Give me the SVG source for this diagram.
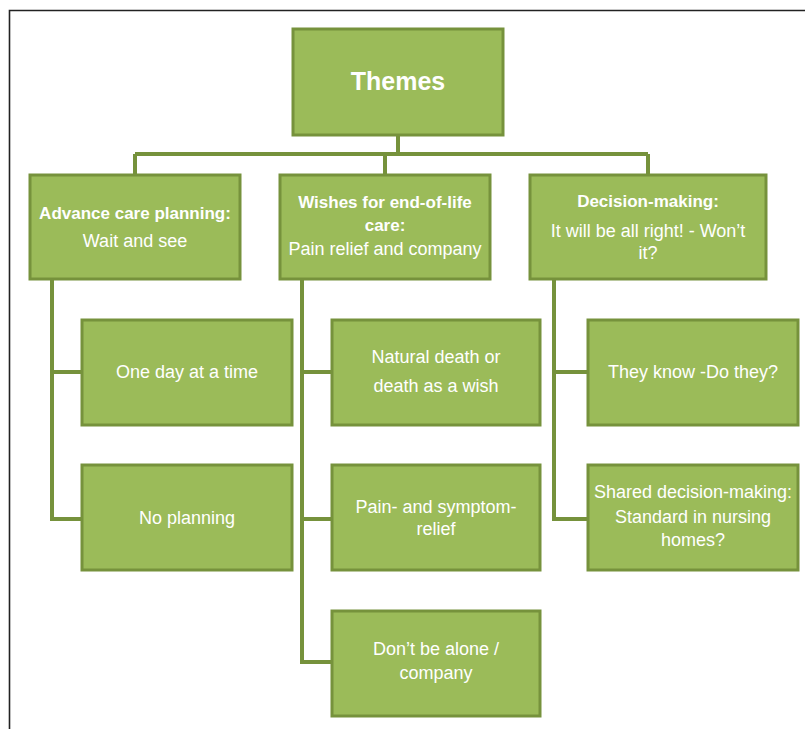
<svg xmlns="http://www.w3.org/2000/svg" width="805" height="729" viewBox="0 0 805 729">
<style>
.box{fill:#9BBB59;stroke:#76923C;stroke-width:3}
.con{fill:none;stroke:#76923C;stroke-width:4;stroke-linejoin:miter}
text{font-family:"Liberation Sans",Arial,sans-serif;fill:#ffffff;text-anchor:middle}
.b{font-weight:bold;font-size:17px}
.r{font-size:18px}
.t{font-weight:bold;font-size:25px}
</style>
<rect width="805" height="729" fill="#ffffff"/>
<path d="M9.5 729 V10.5 H805" fill="none" stroke="#222222" stroke-width="1.6"/>
<g id="connectors">
<path class="con" d="M398 135 V154 M135 154 H648 M135 154 V175 M385 154 V175 M648 154 V175"/>
<path class="con" d="M52 279 V519 H82 M52 372 H82"/>
<path class="con" d="M302 279 V662 H332 M302 372 H332 M302 519 H332"/>
<path class="con" d="M554 279 V519 H588 M554 372 H588"/>
</g>
<g id="themes"><rect class="box" x="293" y="29" width="210" height="106"/><text class="t" x="398" y="90">Themes</text></g>
<g id="acp"><rect class="box" x="30" y="175" width="210" height="104"/><text class="b" x="135" y="219">Advance care planning:</text><text class="r" x="135" y="247">Wait and see</text></g>
<g id="wishes"><rect class="box" x="280" y="175" width="210" height="104"/><text class="b" x="385" y="208">Wishes for end-of-life</text><text class="b" x="385" y="231">care:</text><text class="r" x="385" y="255">Pain relief and company</text></g>
<g id="decision"><rect class="box" x="530" y="175" width="236" height="104"/><text class="b" x="648" y="207">Decision-making:</text><text class="r" x="648" y="236.5">It will be all right! - Won’t</text><text class="r" x="648" y="259">it?</text></g>
<g id="oneday"><rect class="box" x="82" y="320" width="210" height="105"/><text class="r" x="187" y="378">One day at a time</text></g>
<g id="noplanning"><rect class="box" x="82" y="465" width="210" height="105"/><text class="r" x="187" y="524">No planning</text></g>
<g id="natural"><rect class="box" x="332" y="320" width="208" height="105"/><text class="r" x="436" y="363">Natural death or</text><text class="r" x="436" y="392">death as a wish</text></g>
<g id="pain"><rect class="box" x="332" y="465" width="208" height="105"/><text class="r" x="436" y="513">Pain- and symptom-</text><text class="r" x="436" y="535">relief</text></g>
<g id="alone"><rect class="box" x="332" y="611" width="208" height="105"/><text class="r" x="436" y="655">Don’t be alone /</text><text class="r" x="436" y="679">company</text></g>
<g id="theyknow"><rect class="box" x="588" y="320" width="210" height="105"/><text class="r" x="693" y="378">They know -Do they?</text></g>
<g id="shared"><rect class="box" x="588" y="465" width="210" height="105"/><text class="r" x="693" y="498">Shared decision-making:</text><text class="r" x="693" y="523">Standard in nursing</text><text class="r" x="693" y="546">homes?</text></g>
</svg>
